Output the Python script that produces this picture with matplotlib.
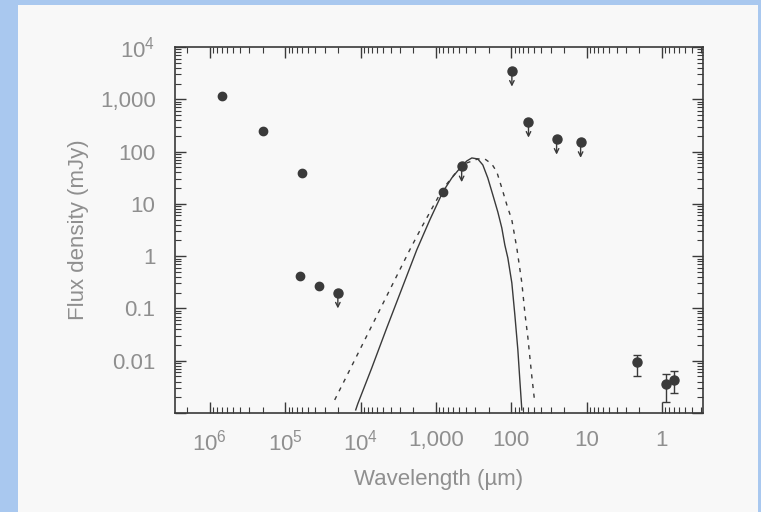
import numpy as np
import matplotlib
matplotlib.use('Agg')
import matplotlib.pyplot as plt
from matplotlib.ticker import FixedLocator, FixedFormatter, LogLocator, NullFormatter
from matplotlib.patches import Rectangle

plt.rcParams['font.family'] = ['Liberation Sans', 'DejaVu Sans']
plt.rcParams['mathtext.fontset'] = 'custom'
plt.rcParams['mathtext.rm'] = 'Liberation Sans'

# detections (wavelength in um, flux in mJy)
det_wl = [6.9e5, 2.0e5, 6.0e4, 6.4e4, 3.6e4, 810]
det_flux = [1150, 245, 39, 0.42, 0.27, 17]

# upper limits
ul_wl = [2.0e4, 455, 98, 59, 25, 12]
ul_flux = [0.20, 52, 3500, 370, 175, 152]

# near-IR points with error bars
nir_wl = [2.15, 0.89, 0.69]
nir_flux = [0.0096, 0.0036, 0.0043]
nir_lo = [0.0051, 0.0016, 0.0024]
nir_hi = [0.013, 0.0055, 0.0063]

# model curves, log10(wavelength), log10(flux)
solid_logwl = [4.064, 4.037, 3.851, 3.652, 3.453, 3.254, 3.081, 2.908, 2.789,
               2.656, 2.590, 2.523, 2.444, 2.377, 2.311, 2.244, 2.178, 2.125,
               2.085, 2.045, 1.992, 1.952, 1.912, 1.886, 1.859]
solid_logf = [-2.941, -2.826, -2.138, -1.373, -0.627, 0.119, 0.692, 1.228, 1.495,
              1.725, 1.820, 1.878, 1.859, 1.744, 1.495, 1.170, 0.845, 0.539,
              0.214, -0.034, -0.512, -1.124, -1.793, -2.367, -2.941]
dash_logwl = [4.343, 4.143, 3.944, 3.745, 3.546, 3.347, 3.187, 3.041, 2.908,
              2.749, 2.590, 2.444, 2.351, 2.258, 2.191, 2.125, 2.058, 1.992,
              1.926, 1.859, 1.819, 1.780, 1.726, 1.687]
dash_logf = [-2.750, -2.176, -1.602, -1.029, -0.455, 0.119, 0.558, 0.941, 1.285,
             1.572, 1.782, 1.859, 1.859, 1.763, 1.610, 1.304, 0.979, 0.692,
             0.157, -0.512, -1.086, -1.545, -2.310, -2.807]

xticks = [1e6, 1e5, 1e4, 1e3, 1e2, 1e1, 1]
xlabels = [r'$\mathregular{10^6}$', r'$\mathregular{10^5}$', r'$\mathregular{10^4}$',
           '1,000', '100', '10', '1']
yticks = [1e-3, 1e-2, 1e-1, 1, 10, 100, 1e3, 1e4]
ylabels = ['', '0.01', '0.1', '1', '10', '100', '1,000', r'$\mathregular{10^4}$']

ink = '#3a3a3a'
txt = '#8f8f8f'

fig = plt.figure(figsize=(7.61, 5.12), dpi=100, facecolor='#a9c8ef')
fig.patches.append(Rectangle((18 / 761, 0), 740 / 761, 507 / 512,
                             transform=fig.transFigure, facecolor='#f8f8f8',
                             edgecolor='none', zorder=-10))
ax = fig.add_axes([175 / 761, 1 - 413 / 512, 528 / 761, 366 / 512])
ax.set_zorder(5)
ax.set_facecolor('#f8f8f8')
ax.set_xscale('log')
ax.set_yscale('log')

ax.plot(10 ** np.array(solid_logwl), 10 ** np.array(solid_logf), color=ink, lw=1.0)
ax.plot(10 ** np.array(dash_logwl), 10 ** np.array(dash_logf), color=ink, lw=1.0,
        ls=(0, (3, 4)))

ax.plot(det_wl, det_flux, 'o', color=ink, ms=6, zorder=5)
ax.plot(ul_wl, ul_flux, 'o', color=ink, ms=6.5, zorder=5)
for w, f in zip(ul_wl, ul_flux):
    ax.annotate('', xy=(w, f * 0.5), xytext=(w, f),
                arrowprops=dict(arrowstyle='->', color=ink, lw=1.0,
                                mutation_scale=8, shrinkA=0, shrinkB=0))

yerr = [np.array(nir_flux) - np.array(nir_lo), np.array(nir_hi) - np.array(nir_flux)]
ax.errorbar(nir_wl, nir_flux, yerr=yerr, fmt='o', color=ink, ms=6.5,
            elinewidth=1.0, capsize=3, capthick=1.0, zorder=5)

ax.set_xlim(2.9e6, 0.285)
ax.set_ylim(1e-3, 1e4)

ax.xaxis.set_major_locator(FixedLocator(xticks))
ax.xaxis.set_major_formatter(FixedFormatter(xlabels))
ax.yaxis.set_major_locator(FixedLocator(yticks))
ax.yaxis.set_major_formatter(FixedFormatter(ylabels))
for axis in (ax.xaxis, ax.yaxis):
    axis.set_minor_locator(LogLocator(base=10, subs=np.arange(2, 10), numticks=20))
    axis.set_minor_formatter(NullFormatter())

ax.tick_params(which='both', direction='in', top=True, right=True, color=ink)
ax.tick_params(which='major', length=8, width=1.0, labelsize=16, labelcolor=txt)
ax.tick_params(which='minor', length=4, width=0.8)
ax.tick_params(axis='x', which='major', pad=12)
ax.tick_params(axis='y', which='major', pad=14)
for s in ax.spines.values():
    s.set_color(ink)
    s.set_linewidth(1.2)

ax.set_xlabel('Wavelength (µm)', fontsize=16, color=txt, labelpad=10)
ax.set_ylabel('Flux density (mJy)', fontsize=16, color=txt, labelpad=8)

fig.savefig('out.png', dpi=100, facecolor=fig.get_facecolor())
